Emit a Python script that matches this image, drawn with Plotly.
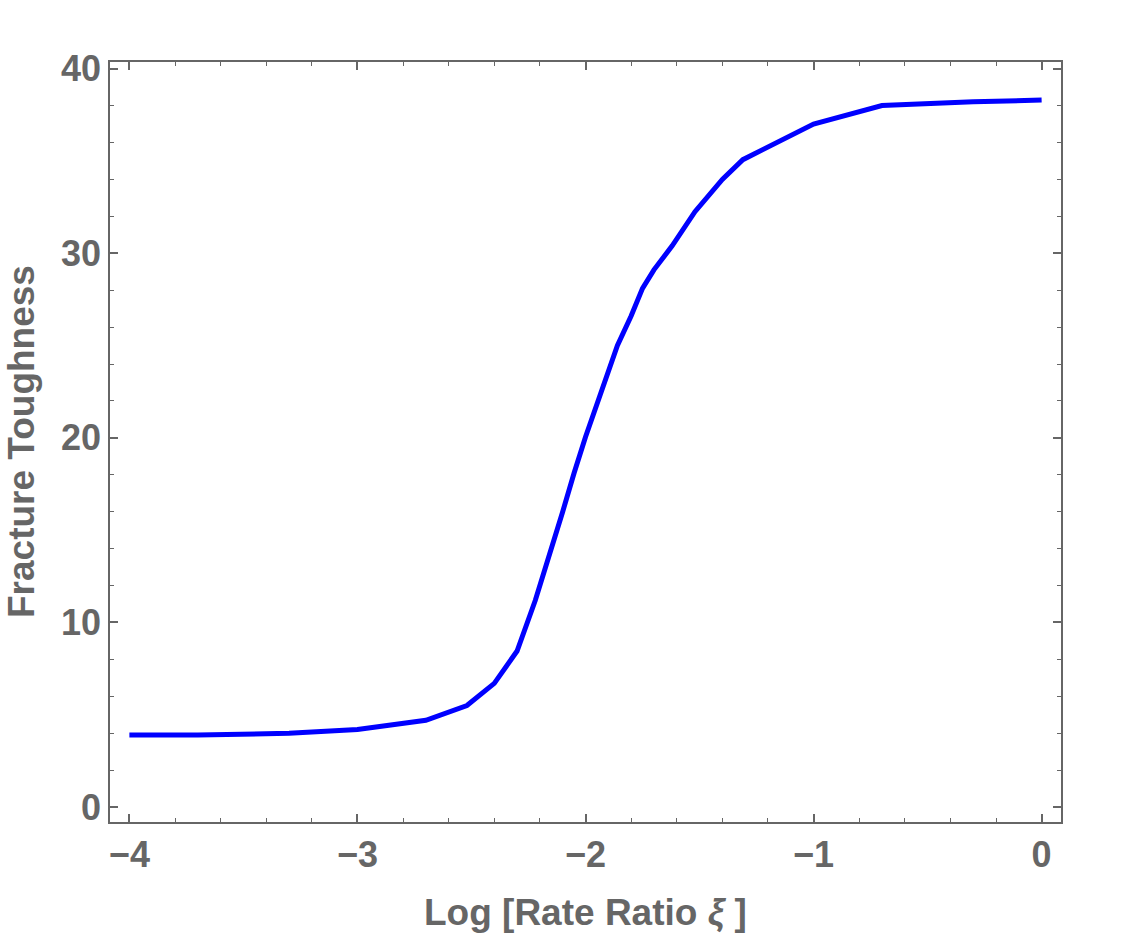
import plotly.graph_objects as go

log_rate_ratio = [-4.0, -3.7, -3.3, -3.0, -2.7, -2.52, -2.4, -2.3, -2.22, -2.16, -2.1, -2.05,
                  -2.0, -1.86, -1.8, -1.75, -1.7, -1.62, -1.52, -1.4, -1.31, -1.0, -0.7, -0.3, 0.0]
fracture_toughness = [3.9, 3.9, 4.0, 4.2, 4.7, 5.5, 6.7, 8.45, 11.2, 13.5, 16.0, 18.1,
                      20.05, 25.0, 26.6, 28.1, 29.1, 30.4, 32.25, 34.0, 35.07, 37.0, 38.0, 38.2, 38.3]

x_ticks = [-4, -3, -2, -1, 0]
y_ticks = [0, 10, 20, 30, 40]

GRAY = "#666666"
FONT = "Liberation Sans"

fig = go.Figure()
fig.add_trace(go.Scatter(x=log_rate_ratio, y=fracture_toughness, mode="lines",
                         line=dict(color="#0000FF", width=5), showlegend=False))

axis_common = dict(
    showgrid=False, zeroline=False, showline=True, linecolor=GRAY, linewidth=1.5,
    mirror="allticks", ticks="inside", ticklen=8, tickwidth=1.5, tickcolor=GRAY,
    tickfont=dict(family=FONT, size=36, color=GRAY, weight="bold"),
)

fig.update_xaxes(range=[-4.085, 0.085], tickvals=x_ticks, **axis_common,
                 minor=dict(ticks="inside", ticklen=4, tickwidth=1.2, tickcolor=GRAY, dtick=0.2, tick0=0))
fig.update_yaxes(range=[-0.81, 40.36], tickvals=y_ticks, **axis_common,
                 minor=dict(ticks="inside", ticklen=4, tickwidth=1.2, tickcolor=GRAY, dtick=2, tick0=0))

title_font = dict(family=FONT, size=37, color=GRAY, weight="bold")
fig.add_annotation(text="Log [Rate Ratio <i>ξ</i> ]", xref="paper", yref="paper",
                   x=0.5, y=-90 / 760, xanchor="center", yanchor="middle",
                   showarrow=False, font=title_font)
fig.add_annotation(text="Fracture Toughness", xref="paper", yref="paper",
                   x=-89 / 951, y=0.5, xanchor="center", yanchor="middle", textangle=-90,
                   showarrow=False, font=title_font)

fig.update_layout(width=1125, height=938, paper_bgcolor="white", plot_bgcolor="white",
                  margin=dict(l=110, r=64, t=62, b=116, autoexpand=False))

fig.write_html("out.html")
